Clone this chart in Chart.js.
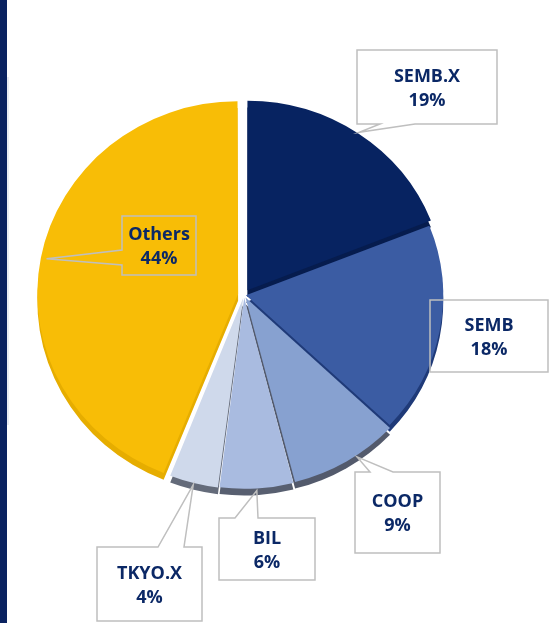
<!DOCTYPE html>
<html>
<head>
<meta charset="utf-8">
<script src="https://cdn.jsdelivr.net/npm/chart.js@4.4.1/dist/chart.umd.min.js"></script>
<style>
  html, body { margin: 0; padding: 0; background: #fff; }
  #wrap { position: relative; width: 555px; height: 623px; }
  #bar { position: absolute; left: 0; top: 0; width: 7px; height: 623px; background: #0a2260; }
  #stripe { position: absolute; left: 7px; top: 77px; width: 2px; height: 348px; background: #e9ecf3; }
</style>
</head>
<body>
<div id="wrap">
  <canvas id="pie" width="555" height="623"></canvas>
  <div id="bar"></div>
  <div id="stripe"></div>
</div>
<script>
// share of holdings, clockwise from 12 o'clock
const labels = ['SEMB.X', 'SEMB', 'COOP', 'BIL', 'TKYO.X', 'Others']
const shares = [19, 18, 9, 6, 4, 44]

const sliceColors = ['#072361', '#3b5ca3', '#87a1d0', '#a9bbe0', '#cfd9eb', '#f8bd06']
const rimColors = ['#061c4e', '#1f3a78', '#535a6c', '#585f70', '#646b7a', '#e6ad00']
const offsets = [24, 8, 12, 12, 12, 24]
const SQUASH = 0.96   // slight tilt of the pie
const RIM = 7

// label boxes: [x, y, w, h], edge the pointer leaves from, where it meets that edge,
// and where along the slice (0..1) the pointer ends
const callouts = [
  { box: [357, 50, 140, 74], side: 'bottom', base: [380, 415], at: 0.5, out: 2 },
  { box: [430, 300, 118, 72], side: null },
  { box: [355, 472, 85, 81], side: 'top', base: [370, 393], at: 0.4, out: 3 },
  { box: [219, 518, 96, 62], side: 'top', base: [235, 258], at: 0.5, out: 4 },
  { box: [97, 547, 105, 74], side: 'top', base: [158, 184], at: 0.5, out: 4 },
  { box: [122, 216, 74, 59], side: 'left', base: [250, 265], at: 0.5, out: -2 },
]

const squashCtx = (ctx, arc) => {
  ctx.translate(arc.x, arc.y)
  ctx.scale(1, SQUASH)
  ctx.translate(-arc.x, -arc.y)
}

const tiltPlugin = {
  id: 'tilt',
  beforeDatasetsDraw(chart) {
    const ctx = chart.ctx
    const arcs = chart.getDatasetMeta(0).data
    ctx.save()
    squashCtx(ctx, arcs[0])
    // the 3D side of each slice
    arcs.forEach((arc, i) => {
      const o = arc.options
      arc.options = Object.assign({}, o, { backgroundColor: rimColors[i], borderColor: rimColors[i] })
      ctx.save()
      ctx.translate(0, RIM)
      arc.draw(ctx)
      ctx.restore()
      arc.options = o
    })
  },
  afterDatasetsDraw(chart) {
    chart.ctx.restore()
  }
}

const calloutPlugin = {
  id: 'callouts',
  afterDraw(chart) {
    const ctx = chart.ctx
    const arcs = chart.getDatasetMeta(0).data
    ctx.save()
    ctx.strokeStyle = '#bfbfbf'
    ctx.lineWidth = 1.5
    callouts.forEach((c, i) => {
      const [x, y, w, h] = c.box
      ctx.beginPath()
      if (!c.side) {
        ctx.rect(x, y, w, h)
      } else {
        const arc = arcs[i]
        const a = arc.startAngle + (arc.endAngle - arc.startAngle) * c.at
        const r = arc.outerRadius + arc.options.offset / 4 + c.out
        const tx = arc.x + Math.cos(a) * r
        const ty = arc.y + Math.sin(a) * r * SQUASH
        ctx.moveTo(x, y)
        if (c.side === 'top') {
          ctx.lineTo(c.base[0], y); ctx.lineTo(tx, ty); ctx.lineTo(c.base[1], y)
        }
        ctx.lineTo(x + w, y)
        ctx.lineTo(x + w, y + h)
        if (c.side === 'bottom') {
          ctx.lineTo(c.base[1], y + h); ctx.lineTo(tx, ty); ctx.lineTo(c.base[0], y + h)
        }
        ctx.lineTo(x, y + h)
        if (c.side === 'left') {
          ctx.lineTo(x, c.base[1]); ctx.lineTo(tx, ty); ctx.lineTo(x, c.base[0])
        }
        ctx.closePath()
      }
      ctx.stroke()

      ctx.fillStyle = '#0b2866'
      ctx.font = 'bold 18px "Open Sans"'
      ctx.textAlign = 'center'
      ctx.textBaseline = 'alphabetic'
      const cx = x + w / 2
      const cy = y + h / 2
      ctx.fillText(labels[i], cx, cy - 12 + 6.5)
      ctx.fillText(shares[i] + '%', cx, cy + 12 + 6.5)
    })
    ctx.restore()
  }
}

new Chart(document.getElementById('pie'), {
  type: 'pie',
  data: {
    labels: labels,
    datasets: [{
      data: shares,
      backgroundColor: sliceColors,
      borderWidth: 0,
      offset: offsets,
    }]
  },
  options: {
    responsive: false,
    animation: false,
    radius: 197,
    layout: { padding: { left: 0, right: 67, top: 0, bottom: 33 } },
    plugins: {
      legend: { display: false },
      tooltip: { enabled: false },
    }
  },
  plugins: [tiltPlugin, calloutPlugin]
})
</script>
</body>
</html>
